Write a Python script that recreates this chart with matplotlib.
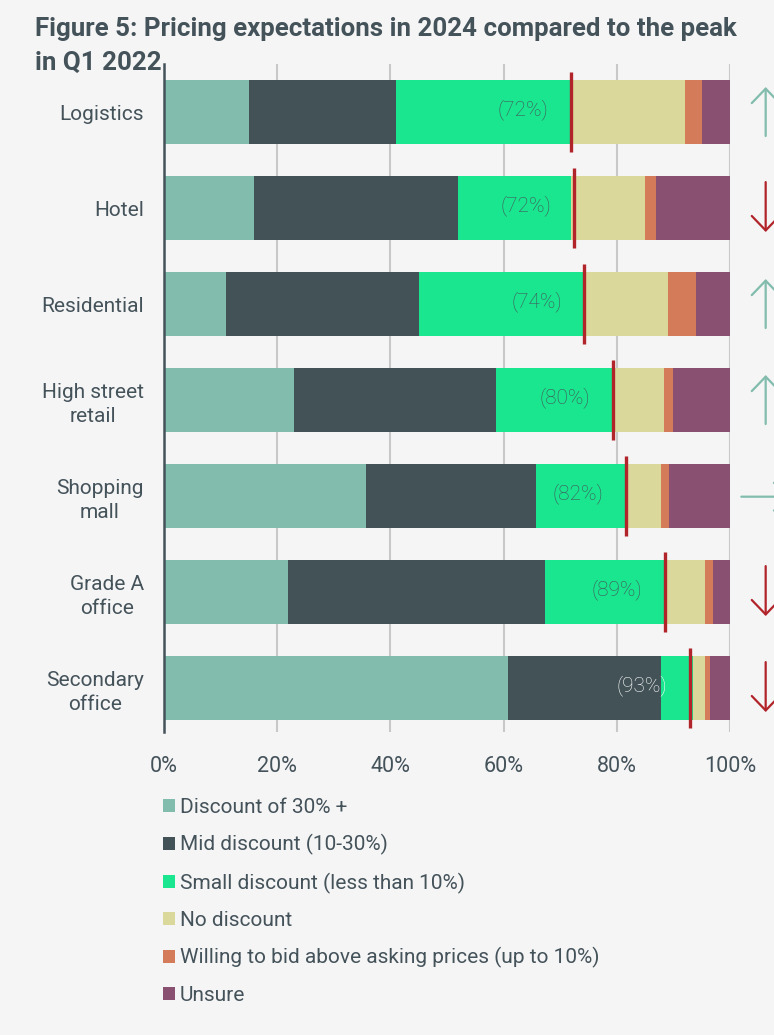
import matplotlib
matplotlib.use("Agg")
import matplotlib.pyplot as plt
from matplotlib.patches import Patch
from matplotlib import font_manager

# ---------------- data ----------------
categories = ["Logistics", "Hotel", "Residential", "High street\nretail",
              "Shopping\nmall", "Grade A\noffice", "Secondary\noffice"]
series_names = ["Discount of 30% +", "Mid discount (10-30%)",
                "Small discount (less than 10%)", "No discount",
                "Willing to bid above asking prices (up to 10%)", "Unsure"]
disc30 = [15, 16, 11, 23, 35.8, 22, 60.8]
mid_disc = [26, 36, 34, 35.6, 30, 45.4, 27]
small_disc = [31, 20, 29, 20.7, 16, 21, 5.6]
no_disc = [20, 13, 15, 9, 6, 7.1, 2.1]
above_ask = [3, 2, 5, 1.6, 1.5, 1.5, 1.0]
unsure = [5, 13, 6, 10.1, 10.7, 3, 3.5]
peak_marker = [72, 72.4, 74.3, 79.4, 81.6, 88.5, 92.9]
peak_labels = ["(72%)", "(72%)", "(74%)", "(80%)", "(82%)", "(89%)", "(93%)"]
trend = ["up", "down", "up", "up", "flat", "down", "down"]
xticks = [0, 20, 40, 60, 80, 100]
xtick_labels = ["0%", "20%", "40%", "60%", "80%", "100%"]

colors = ["#82bcad", "#435257", "#19e68e", "#dbd89b", "#d47b5a", "#895071"]
red = "#b0242a"
teal = "#82bcad"
txt = "#44525a"
bg = "#f5f5f5"

names = {f.name for f in font_manager.fontManager.ttflist}
body_font = "Roboto" if "Roboto" in names else "DejaVu Sans"
title_font, title_size = body_font, 18.6
plt.rcParams["font.family"] = [body_font, "DejaVu Sans"]

W, H = 774, 1035
fig = plt.figure(figsize=(W / 100, H / 100), dpi=100, facecolor=bg)
left, right, top, bottom = 163.8, 730, 64, 732
ax = fig.add_axes([left / W, 1 - bottom / H, (right - left) / W, (bottom - top) / H])
ax.set_facecolor(bg)

y = list(range(len(categories)))
series = [disc30, mid_disc, small_disc, no_disc, above_ask, unsure]
cum = [0.0] * len(categories)
for vals, col, name in zip(series, colors, series_names):
    ax.barh(y, vals, left=cum, height=0.667, color=col, label=name, zorder=2)
    cum = [c + v for c, v in zip(cum, vals)]

for i, (m, lab) in enumerate(zip(peak_marker, peak_labels)):
    ax.plot([m, m], [i - 0.42, i + 0.42], color=red, lw=2.4, zorder=4,
            solid_capstyle="butt")
    ax.text(m - 4, i - 0.03, lab, ha="right", va="center", fontsize=15,
            fontweight="light", color="white" if i == len(categories) - 1 else txt,
            zorder=5)

# trend arrows
for i, t in enumerate(trend):
    if t == "up":
        col, xy, xytext = teal, (106.3, i - 0.26), (106.3, i + 0.25)
    elif t == "down":
        col, xy, xytext = red, (106.3, i + 0.25), (106.3, i - 0.27)
    else:
        col, xy, xytext = teal, (110.6, i + 0.007), (102.0, i + 0.007)
    ax.annotate("", xy=xy, xytext=xytext, annotation_clip=False,
                arrowprops=dict(arrowstyle="->,head_length=0.52,head_width=0.5",
                                color=col, lw=1.6, mutation_scale=20,
                                shrinkA=0, shrinkB=0))

ax.set_xlim(0, 100)
ax.set_ylim(len(categories) - 1 + 0.458, -0.5)
ax.set_xticks(xticks)
ax.set_xticklabels(xtick_labels)
ax.set_yticks(y)
ax.set_yticklabels(categories, multialignment="center", linespacing=1.3)
ax.grid(axis="x", color="#c8c8c8", lw=1.5, zorder=0)
ax.set_axisbelow(True)
for s in ["top", "right", "bottom"]:
    ax.spines[s].set_visible(False)
ax.spines["left"].set_color(txt)
ax.spines["left"].set_linewidth(1.8)
ax.spines["left"].set_zorder(6)
ax.tick_params(axis="x", length=0, pad=17, labelsize=15.5, labelcolor=txt)
ax.tick_params(axis="y", length=0, pad=14.4, labelsize=15, labelcolor=txt)

# legend
handles = [Patch(facecolor=c, edgecolor="none") for c in colors]
fig.legend(handles, series_names, loc="upper left",
           bbox_to_anchor=(163 / W, 1 - 798 / H), frameon=False,
           fontsize=15, labelcolor=txt, handlelength=0.58, handleheight=0.58,
           handletextpad=0.22, labelspacing=0.83, borderaxespad=0, borderpad=0)

fig.text(35 / W, 1 - 36 / H, "Figure 5: Pricing expectations in 2024 compared to the peak",
         family=[title_font, "DejaVu Sans"], fontsize=title_size, fontweight="bold",
         color=txt, ha="left", va="baseline")
fig.text(35 / W, 1 - 70 / H, "in Q1 2022",
         family=[title_font, "DejaVu Sans"], fontsize=title_size, fontweight="bold",
         color=txt, ha="left", va="baseline")

fig.savefig("out.png", dpi=100, facecolor=bg)
